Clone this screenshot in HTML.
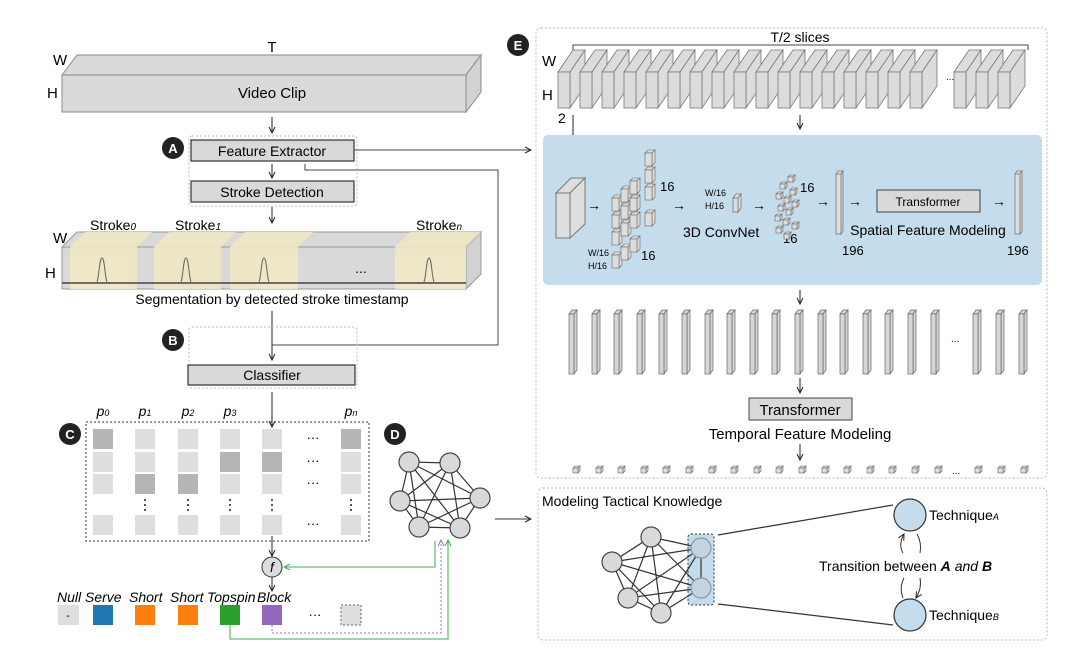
<!DOCTYPE html>
<html><head><meta charset="utf-8"><style>
body{margin:0;background:#fff}
svg{display:block;font-family:"Liberation Sans",sans-serif}
</style></head><body>
<svg width="1080" height="663" viewBox="0 0 1080 663" xmlns="http://www.w3.org/2000/svg">
<defs>
<marker id="ar" markerWidth="8" markerHeight="8" refX="7" refY="4" orient="auto" markerUnits="userSpaceOnUse"><path d="M1,1 L7,4 L1,7" fill="none" stroke="#222" stroke-width="1"/></marker>
<marker id="ag" markerWidth="8" markerHeight="8" refX="7" refY="4" orient="auto" markerUnits="userSpaceOnUse"><path d="M1,1 L7,4 L1,7" fill="none" stroke="#3cb043" stroke-width="1"/></marker>
<marker id="ap" markerWidth="8" markerHeight="8" refX="7" refY="4" orient="auto" markerUnits="userSpaceOnUse"><path d="M1,1 L7,4 L1,7" fill="none" stroke="#a070d0" stroke-width="1"/></marker>
<g id="sl" fill="#dcdcdc" stroke="#777" stroke-width="0.8"><polygon points="0,22 15,0 27,0 12,22"/><polygon points="12,22 27,0 27,36 12,58"/><rect x="0" y="22" width="12" height="36"/></g>
<g id="br" fill="#d6d6d6" stroke="#666" stroke-width="0.7"><polygon points="0,4 3,0 8,0 5,4"/><polygon points="5,4 8,0 8,60 5,64"/><rect x="0" y="4" width="5" height="60"/></g>
<g id="cb" fill="#ddd" stroke="#666" stroke-width="0.6"><polygon points="0,2 2,0 7,0 5,2"/><polygon points="5,2 7,0 7,5 5,7"/><rect x="0" y="2" width="5" height="5"/></g>
<g id="mc" fill="#ddd" stroke="#666" stroke-width="0.6"><polygon points="0,3 3,0 10,0 7,3"/><polygon points="7,3 10,0 10,13 7,16"/><rect x="0" y="3" width="7" height="13"/></g>
</defs>

<!-- Video clip -->
<polygon points="62,75 77,55 481,55 466,75" fill="#d9d9d9" stroke="#888"/>
<polygon points="466,75 481,55 481,92 466,112" fill="#d2d2d2" stroke="#888"/>
<rect x="62" y="75" width="404" height="37" fill="#dadada" stroke="#888"/>
<text x="272" y="52" font-size="15" text-anchor="middle">T</text>
<text x="53" y="65" font-size="15">W</text>
<text x="47" y="98" font-size="15">H</text>
<text x="272" y="98" font-size="15" text-anchor="middle">Video Clip</text>
<line x1="272" y1="117" x2="272" y2="133" stroke="#222" marker-end="url(#ar)"/>

<!-- A -->
<rect x="189" y="136" width="168" height="70" rx="3" fill="none" stroke="#bbb" stroke-dasharray="2,2"/>
<rect x="191" y="140" width="163" height="21" fill="#d9d9d9" stroke="#333" stroke-width="1.2"/>
<text x="272" y="156" font-size="14" text-anchor="middle">Feature Extractor</text>
<line x1="272" y1="164" x2="272" y2="178" stroke="#222" marker-end="url(#ar)"/>
<rect x="191" y="181" width="163" height="21" fill="#d9d9d9" stroke="#333" stroke-width="1.2"/>
<text x="272" y="197" font-size="14" text-anchor="middle">Stroke Detection</text>
<circle cx="173" cy="148" r="11" fill="#222"/><text x="173" y="153" font-size="13" font-weight="bold" fill="#fff" text-anchor="middle">A</text>
<line x1="354" y1="150" x2="531" y2="150" stroke="#444" marker-end="url(#ar)"/>
<polyline points="305,164 305,170 498,170 498,345 272,345" fill="none" stroke="#444"/>
<line x1="272" y1="207" x2="272" y2="223" stroke="#222" marker-end="url(#ar)"/>

<!-- stroke strip -->
<polygon points="62,247 77,232 481,232 466,247" fill="#d9d9d9" stroke="#999"/>
<polygon points="466,247 481,232 481,274 466,289" fill="#d2d2d2" stroke="#999"/>
<rect x="62" y="247" width="404" height="42" fill="#d9d9d9" stroke="#999"/>
<g fill="#efe8c5" opacity="0.9">
<polygon points="70,247 85,232 152,232 137,247"/><rect x="70" y="247" width="67" height="42"/>
<polygon points="154,247 169,232 236,232 221,247"/><rect x="154" y="247" width="67" height="42"/>
<polygon points="230,247 245,232 313,232 298,247"/><rect x="230" y="247" width="68" height="42"/>
<polygon points="395,247 410,232 481,232 466,247"/><rect x="395" y="247" width="71" height="42"/>
</g>
<line x1="62" y1="283" x2="466" y2="283" stroke="#444" stroke-width="1.5"/>
<g fill="none" stroke="#665" stroke-width="1">
<path d="M96,283 C99,283 99,258 102,258 C105,258 105,283 108,283"/>
<path d="M180,283 C183,283 183,258 186,258 C189,258 189,283 192,283"/>
<path d="M258,283 C261,283 261,258 264,258 C267,258 267,283 270,283"/>
<path d="M423,283 C426,283 426,258 429,258 C432,258 432,283 435,283"/>
</g>
<text x="361" y="273" font-size="14" text-anchor="middle">...</text>
<text x="53" y="243" font-size="15">W</text>
<text x="45" y="278" font-size="15">H</text>
<text x="90" y="230" font-size="14">Stroke<tspan font-size="10" font-style="italic">0</tspan></text>
<text x="175" y="230" font-size="14">Stroke<tspan font-size="10" font-style="italic">1</tspan></text>
<text x="416" y="230" font-size="14">Stroke<tspan font-size="10" font-style="italic">n</tspan></text>
<text x="272" y="304" font-size="14" text-anchor="middle">Segmentation by detected stroke timestamp</text>
<line x1="272" y1="311" x2="272" y2="360" stroke="#222" marker-end="url(#ar)"/>

<!-- B -->
<rect x="189" y="327" width="168" height="61" rx="3" fill="none" stroke="#bbb" stroke-dasharray="2,2"/>
<rect x="188" y="365" width="167" height="20" fill="#d9d9d9" stroke="#333" stroke-width="1.2"/>
<text x="272" y="380" font-size="14" text-anchor="middle">Classifier</text>
<circle cx="173" cy="340" r="11" fill="#222"/><text x="173" y="345" font-size="13" font-weight="bold" fill="#fff" text-anchor="middle">B</text>
<line x1="272" y1="392" x2="272" y2="427" stroke="#222" marker-end="url(#ar)"/>

<!-- C -->
<circle cx="70" cy="434" r="11" fill="#222"/><text x="70" y="439" font-size="13" font-weight="bold" fill="#fff" text-anchor="middle">C</text>
<rect x="86" y="422" width="283" height="119" fill="none" stroke="#333" stroke-dasharray="2,2"/>
<g font-size="14" font-style="italic" text-anchor="middle">
<text x="103" y="416">p<tspan font-size="9">0</tspan></text>
<text x="145" y="416">p<tspan font-size="9">1</tspan></text>
<text x="188" y="416">p<tspan font-size="9">2</tspan></text>
<text x="230" y="416">p<tspan font-size="9">3</tspan></text>
<text x="351" y="416">p<tspan font-size="9">n</tspan></text>
</g>
<g fill="#dedede">
<rect x="93" y="429" width="20" height="20" fill="#b5b5b5"/><rect x="93" y="452" width="20" height="20"/><rect x="93" y="474" width="20" height="20"/><rect x="93" y="515" width="20" height="20"/>
<rect x="135" y="429" width="20" height="20"/><rect x="135" y="452" width="20" height="20"/><rect x="135" y="474" width="20" height="20" fill="#b5b5b5"/><rect x="135" y="515" width="20" height="20"/>
<rect x="178" y="429" width="20" height="20"/><rect x="178" y="452" width="20" height="20"/><rect x="178" y="474" width="20" height="20" fill="#b5b5b5"/><rect x="178" y="515" width="20" height="20"/>
<rect x="220" y="429" width="20" height="20"/><rect x="220" y="452" width="20" height="20" fill="#b5b5b5"/><rect x="220" y="474" width="20" height="20"/><rect x="220" y="515" width="20" height="20"/>
<rect x="262" y="429" width="20" height="20"/><rect x="262" y="452" width="20" height="20" fill="#b5b5b5"/><rect x="262" y="474" width="20" height="20"/><rect x="262" y="515" width="20" height="20"/>
<rect x="341" y="429" width="20" height="20" fill="#b5b5b5"/><rect x="341" y="452" width="20" height="20"/><rect x="341" y="474" width="20" height="20"/><rect x="341" y="515" width="20" height="20"/>
</g>
<g font-size="13" text-anchor="middle">
<text x="313" y="442">···</text><text x="313" y="465">···</text><text x="313" y="487">···</text><text x="313" y="528">···</text>
</g>
<g fill="#222"><circle cx="145" cy="500" r="1"/><circle cx="145" cy="505" r="1"/><circle cx="145" cy="510" r="1"/>
<circle cx="188" cy="500" r="1"/><circle cx="188" cy="505" r="1"/><circle cx="188" cy="510" r="1"/>
<circle cx="230" cy="500" r="1"/><circle cx="230" cy="505" r="1"/><circle cx="230" cy="510" r="1"/>
<circle cx="272" cy="500" r="1"/><circle cx="272" cy="505" r="1"/><circle cx="272" cy="510" r="1"/>
<circle cx="351" cy="500" r="1"/><circle cx="351" cy="505" r="1"/><circle cx="351" cy="510" r="1"/></g>
<line x1="272" y1="536" x2="272" y2="556" stroke="#222" marker-end="url(#ar)"/>
<circle cx="272" cy="567" r="10" fill="#ddd" stroke="#333"/>
<text x="272" y="572" font-size="14" font-style="italic" text-anchor="middle">f</text>
<line x1="272" y1="577" x2="272" y2="591" stroke="#222" marker-end="url(#ar)"/>

<!-- labels -->
<g font-size="14" font-style="italic">
<text x="57" y="602">Null</text><text x="85" y="602">Serve</text><text x="129" y="602">Short</text><text x="170" y="602">Short</text><text x="207" y="602">Topspin</text><text x="257" y="602">Block</text>
</g>
<rect x="58" y="605" width="21" height="20" fill="#dedede"/><text x="68" y="619" font-size="11" text-anchor="middle">-</text>
<rect x="93" y="605" width="20" height="20" fill="#1f77b4"/>
<rect x="135" y="605" width="20" height="20" fill="#ff7f0e"/>
<rect x="178" y="605" width="20" height="20" fill="#ff7f0e"/>
<rect x="220" y="605" width="20" height="20" fill="#2ca02c"/>
<rect x="262" y="605" width="20" height="20" fill="#9467bd"/>
<text x="315" y="619" font-size="13" text-anchor="middle">···</text>
<rect x="341" y="605" width="20" height="20" fill="#dedede" stroke="#666" stroke-dasharray="2,2"/>
<polyline points="230,625 230,639 448,639 448,540" fill="none" stroke="#3cb043" marker-end="url(#ag)"/>
<polyline points="272,625 272,633 441,633 441,540" fill="none" stroke="#a070d0" stroke-dasharray="2,2" marker-end="url(#ap)"/>
<polyline points="435,541 435,567 284,567" fill="none" stroke="#3cb043" marker-end="url(#ag)"/>

<!-- D -->
<circle cx="395" cy="434" r="11" fill="#222"/><text x="395" y="439" font-size="13" font-weight="bold" fill="#fff" text-anchor="middle">D</text>
<g stroke="#333" stroke-width="1.2">
<line x1="409" y1="462" x2="450" y2="463"/><line x1="409" y1="462" x2="480" y2="498"/><line x1="409" y1="462" x2="460" y2="528"/><line x1="409" y1="462" x2="419" y2="527"/><line x1="409" y1="462" x2="400" y2="501"/>
<line x1="450" y1="463" x2="480" y2="498"/><line x1="450" y1="463" x2="460" y2="528"/><line x1="450" y1="463" x2="419" y2="527"/><line x1="450" y1="463" x2="400" y2="501"/>
<line x1="480" y1="498" x2="460" y2="528"/><line x1="480" y1="498" x2="419" y2="527"/><line x1="480" y1="498" x2="400" y2="501"/>
<line x1="460" y1="528" x2="419" y2="527"/><line x1="460" y1="528" x2="400" y2="501"/><line x1="419" y1="527" x2="400" y2="501"/>
</g>
<g fill="#d9d9d9" stroke="#444" stroke-width="1.2">
<circle cx="409" cy="462" r="10"/><circle cx="450" cy="463" r="10"/><circle cx="480" cy="498" r="10"/><circle cx="460" cy="528" r="10"/><circle cx="419" cy="527" r="10"/><circle cx="400" cy="501" r="10"/>
</g>
<line x1="495" y1="519" x2="531" y2="519" stroke="#333" marker-end="url(#ar)"/>

<!-- E -->
<rect x="536" y="28" width="511" height="450" rx="5" fill="none" stroke="#bbb" stroke-dasharray="2,2"/>
<circle cx="518" cy="45" r="11" fill="#222"/><text x="518" y="50" font-size="13" font-weight="bold" fill="#fff" text-anchor="middle">E</text>
<text x="800" y="42" font-size="14" text-anchor="middle">T/2 slices</text>
<polyline points="573,50 573,45 1028,45 1028,50" fill="none" stroke="#444"/>
<text x="542" y="66" font-size="15">W</text>
<text x="542" y="100" font-size="15">H</text>
<use href="#sl" x="558" y="50"/><use href="#sl" x="580" y="50"/><use href="#sl" x="602" y="50"/><use href="#sl" x="624" y="50"/><use href="#sl" x="646" y="50"/><use href="#sl" x="668" y="50"/><use href="#sl" x="690" y="50"/><use href="#sl" x="712" y="50"/><use href="#sl" x="734" y="50"/><use href="#sl" x="756" y="50"/><use href="#sl" x="778" y="50"/><use href="#sl" x="800" y="50"/><use href="#sl" x="822" y="50"/><use href="#sl" x="844" y="50"/><use href="#sl" x="866" y="50"/><use href="#sl" x="888" y="50"/><use href="#sl" x="910" y="50"/>
<text x="946" y="80" font-size="10">...</text>
<use href="#sl" x="954" y="50"/><use href="#sl" x="976" y="50"/><use href="#sl" x="998" y="50"/>
<text x="558" y="123" font-size="14">2</text>
<line x1="573" y1="115" x2="573" y2="170" stroke="#222" marker-end="url(#ar)"/>
<line x1="800" y1="115" x2="800" y2="129" stroke="#222" marker-end="url(#ar)"/>

<!-- blue panel -->
<rect x="543" y="135" width="499" height="150" rx="5" fill="#c5dcec"/>
<g fill="#dedede" stroke="#777"><polygon points="556,193 571,178 585,178 570,193"/><polygon points="570,193 585,178 585,224 570,238"/><rect x="556" y="193" width="14" height="45"/></g>
<g font-size="14"><text x="587" y="210">→</text><text x="672" y="210">→</text><text x="752" y="210">→</text><text x="816" y="206">→</text><text x="848" y="206">→</text><text x="992" y="206">→</text></g>
<use href="#mc" x="612" y="195"/><use href="#mc" x="612" y="212"/><use href="#mc" x="612" y="229"/><use href="#mc" x="612" y="252"/>
<use href="#mc" x="621" y="186"/><use href="#mc" x="621" y="203"/><use href="#mc" x="621" y="220"/><use href="#mc" x="621" y="244"/>
<use href="#mc" x="630" y="178"/><use href="#mc" x="630" y="195"/><use href="#mc" x="630" y="212"/><use href="#mc" x="630" y="236"/>
<use href="#mc" x="645" y="150"/><use href="#mc" x="645" y="167"/><use href="#mc" x="645" y="184"/><use href="#mc" x="645" y="210"/>
<g font-size="13"><text x="660" y="191">16</text><text x="641" y="260">16</text><text x="842" y="255">196</text><text x="1007" y="255">196</text><text x="800" y="192">16</text><text x="783" y="243">16</text></g>
<g font-size="9"><text x="588" y="256">W/16</text><text x="588" y="269">H/16</text><text x="705" y="196">W/16</text><text x="705" y="209">H/16</text></g>
<g fill="#ddd" stroke="#777" stroke-width="0.8"><polygon points="733,198 736,194 741,194 738,198"/><polygon points="738,198 741,194 741,208 738,212"/><rect x="733" y="198" width="5" height="14"/></g>
<text x="683" y="237" font-size="14">3D ConvNet</text>
<use href="#cb" x="788" y="175"/><use href="#cb" x="780" y="182"/><use href="#cb" x="790" y="188"/><use href="#cb" x="776" y="192"/><use href="#cb" x="784" y="196"/><use href="#cb" x="792" y="200"/><use href="#cb" x="778" y="204"/><use href="#cb" x="786" y="208"/><use href="#cb" x="775" y="214"/><use href="#cb" x="783" y="218"/><use href="#cb" x="792" y="222"/><use href="#cb" x="776" y="226"/><use href="#cb" x="784" y="232"/>
<g fill="#dedede" stroke="#777" stroke-width="0.8"><polygon points="836,174 838,171 843,171 841,174"/><polygon points="841,174 843,171 843,231 841,234"/><rect x="836" y="174" width="5" height="60"/>
<polygon points="1015,174 1017,171 1022,171 1020,174"/><polygon points="1020,174 1022,171 1022,231 1020,234"/><rect x="1015" y="174" width="5" height="60"/></g>
<rect x="877" y="190" width="103" height="22" fill="#d9d9d9" stroke="#444"/>
<text x="928" y="206" font-size="12" text-anchor="middle">Transformer</text>
<text x="928" y="235" font-size="14" text-anchor="middle">Spatial Feature Modeling</text>

<line x1="800" y1="290" x2="800" y2="304" stroke="#222" marker-end="url(#ar)"/>
<use href="#br" x="569" y="310"/><use href="#br" x="592" y="310"/><use href="#br" x="614" y="310"/><use href="#br" x="637" y="310"/><use href="#br" x="659" y="310"/><use href="#br" x="682" y="310"/><use href="#br" x="705" y="310"/><use href="#br" x="727" y="310"/><use href="#br" x="750" y="310"/><use href="#br" x="772" y="310"/><use href="#br" x="795" y="310"/><use href="#br" x="818" y="310"/><use href="#br" x="840" y="310"/><use href="#br" x="863" y="310"/><use href="#br" x="885" y="310"/><use href="#br" x="908" y="310"/><use href="#br" x="931" y="310"/>
<text x="951" y="342" font-size="10">...</text>
<use href="#br" x="973" y="310"/><use href="#br" x="996" y="310"/><use href="#br" x="1019" y="310"/>
<line x1="800" y1="378" x2="800" y2="393" stroke="#222" marker-end="url(#ar)"/>
<rect x="749" y="398" width="103" height="22" fill="#d9d9d9" stroke="#444"/>
<text x="800" y="415" font-size="15" text-anchor="middle">Transformer</text>
<text x="800" y="439" font-size="15" text-anchor="middle">Temporal Feature Modeling</text>
<line x1="800" y1="444" x2="800" y2="460" stroke="#222" marker-end="url(#ar)"/>
<use href="#cb" x="573" y="466"/><use href="#cb" x="596" y="466"/><use href="#cb" x="618" y="466"/><use href="#cb" x="641" y="466"/><use href="#cb" x="663" y="466"/><use href="#cb" x="686" y="466"/><use href="#cb" x="709" y="466"/><use href="#cb" x="731" y="466"/><use href="#cb" x="754" y="466"/><use href="#cb" x="776" y="466"/><use href="#cb" x="799" y="466"/><use href="#cb" x="822" y="466"/><use href="#cb" x="844" y="466"/><use href="#cb" x="867" y="466"/><use href="#cb" x="889" y="466"/><use href="#cb" x="912" y="466"/><use href="#cb" x="935" y="466"/>
<text x="952" y="474" font-size="10">...</text>
<use href="#cb" x="975" y="466"/><use href="#cb" x="998" y="466"/><use href="#cb" x="1021" y="466"/>

<!-- tactical -->
<rect x="538" y="488" width="509" height="152" rx="5" fill="none" stroke="#bbb" stroke-dasharray="2,2"/>
<text x="542" y="506" font-size="14">Modeling Tactical Knowledge</text>
<rect x="688" y="534" width="26" height="71" rx="3" fill="#c5dcec" stroke="#333" stroke-dasharray="2,2"/>
<g stroke="#333" stroke-width="1.2">
<line x1="651" y1="537" x2="612" y2="562"/><line x1="651" y1="537" x2="628" y2="598"/><line x1="651" y1="537" x2="661" y2="613"/><line x1="651" y1="537" x2="701" y2="548"/><line x1="651" y1="537" x2="701" y2="588"/>
<line x1="612" y1="562" x2="628" y2="598"/><line x1="612" y1="562" x2="661" y2="613"/><line x1="612" y1="562" x2="701" y2="548"/><line x1="612" y1="562" x2="701" y2="588"/>
<line x1="628" y1="598" x2="661" y2="613"/><line x1="628" y1="598" x2="701" y2="548"/><line x1="628" y1="598" x2="701" y2="588"/>
<line x1="661" y1="613" x2="701" y2="548"/><line x1="661" y1="613" x2="701" y2="588"/><line x1="701" y1="548" x2="701" y2="588"/>
<line x1="718" y1="535" x2="893" y2="505"/><line x1="718" y1="604" x2="893" y2="625"/>
</g>
<g fill="#d9d9d9" stroke="#444" stroke-width="1.2">
<circle cx="651" cy="537" r="10"/><circle cx="612" cy="562" r="10"/><circle cx="628" cy="598" r="10"/><circle cx="661" cy="613" r="10"/>
<circle cx="701" cy="548" r="10" fill="#c5d3de" stroke="#8899aa"/><circle cx="701" cy="588" r="10" fill="#c5d3de" stroke="#8899aa"/>
</g>
<circle cx="910" cy="515" r="16" fill="#c5dcec" stroke="#333" stroke-width="1.2"/>
<circle cx="910" cy="615" r="16" fill="#c5dcec" stroke="#333" stroke-width="1.2"/>
<text x="929" y="520" font-size="14">Technique<tspan font-size="9" font-style="italic">A</tspan></text>
<text x="929" y="620" font-size="14">Technique<tspan font-size="9" font-style="italic">B</tspan></text>
<path d="M903,553 Q898,545 904,534" fill="none" stroke="#333" marker-end="url(#ar)"/>
<path d="M917,534 Q922,543 920,553" fill="none" stroke="#333"/>
<path d="M904,578 Q899,588 903,598" fill="none" stroke="#333"/>
<path d="M920,578 Q922,588 916,598" fill="none" stroke="#333" marker-end="url(#ar)"/>
<text x="819" y="571" font-size="14">Transition between <tspan font-weight="bold" font-style="italic">A</tspan> <tspan font-style="italic">and</tspan> <tspan font-weight="bold" font-style="italic">B</tspan></text>
</svg>
</body></html>
